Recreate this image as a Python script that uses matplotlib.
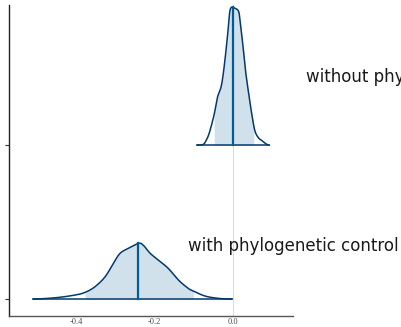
import numpy as np
import matplotlib
matplotlib.use("Agg")
import matplotlib.pyplot as plt

# ---- data ----
labels = ["with phylogenetic control", "without phylogenetic control"]
positions = [1, 2]

# density curve of "without phylogenetic control" (x, relative height)
x_without = [-0.091, -0.076, -0.067, -0.059, -0.048, -0.040, -0.031, -0.025, -0.018,
             -0.012, -0.008, -0.003, 0.003, 0.014, 0.018, 0.025, 0.031, 0.039,
             0.048, 0.056, 0.065, 0.073, 0.084, 0.092]
d_without = [0.0, 0.7, 5.7, 14.0, 30.7, 47.3, 57.3, 70.7, 94.0,
             117.3, 134.0, 138.0, 137.3, 134.0, 124.0, 100.7, 77.3, 54.0,
             30.7, 14.0, 7.3, 4.7, 1.3, 0.0]
# density curve of "with phylogenetic control"
x_with = [-0.509, -0.453, -0.403, -0.377, -0.352, -0.326, -0.305, -0.288, -0.267,
          -0.241, -0.229, -0.211, -0.190, -0.165, -0.139, -0.114, -0.101, -0.071,
          -0.037, -0.003]
d_with = [0.0, 1.3, 4.0, 6.7, 12.3, 22.3, 35.7, 45.7, 50.7,
          55.7, 54.0, 45.7, 39.0, 30.7, 19.0, 10.7, 8.0, 3.0,
          0.7, 0.0]

medians = [-0.242, 0.001]
interval_lo = [-0.377, -0.048]
interval_hi = [-0.101, 0.053]

xticks = [-0.4, -0.2, 0.0]
xtick_labels = ["-0.4", "-0.2", "0.0"]

# ---- styling ----
fill_col = "#d1e1ec"
line_col = "#03396c"
med_col = "#005b96"
scale = 1 / 154.0


def smooth(xs, ys, n=12):
    """Catmull-Rom spline through the read points (display only)."""
    xs = np.asarray(xs, float)
    ys = np.asarray(ys, float)
    px = np.concatenate([[2 * xs[0] - xs[1]], xs, [2 * xs[-1] - xs[-2]]])
    py = np.concatenate([[ys[0]], ys, [ys[-1]]])
    ox, oy = [], []
    t = np.linspace(0, 1, n, endpoint=False)
    for k in range(1, len(px) - 2):
        p0x, p1x, p2x, p3x = px[k - 1:k + 3]
        p0y, p1y, p2y, p3y = py[k - 1:k + 3]
        for arr, a, b, c, d in ((ox, p0x, p1x, p2x, p3x), (oy, p0y, p1y, p2y, p3y)):
            arr.extend(0.5 * ((2 * b) + (-a + c) * t + (2 * a - 5 * b + 4 * c - d) * t ** 2
                              + (-a + 3 * b - 3 * c + d) * t ** 3))
    ox.append(xs[-1])
    oy.append(ys[-1])
    return np.array(ox), np.clip(np.array(oy), 0, None)


fig = plt.figure(figsize=(4.02, 3.27), dpi=100)
ax = fig.add_axes([0.0224, 0.0336, 0.7065, 0.9511])
ax.set_xlim(-0.571, 0.153)
ax.set_ylim(0.89, 2.91)

ax.axvline(0.0, color="#dcdcdc", lw=0.8, zorder=0)

curves = [(x_with, d_with), (x_without, d_without)]
for i, (xs, ds) in enumerate(curves):
    sx, sy = smooth(xs, np.asarray(ds) * scale)
    base = positions[i]
    grid = np.linspace(interval_lo[i], interval_hi[i], 300)
    ax.fill_between(grid, base, base + np.interp(grid, sx, sy),
                    color=fill_col, lw=0, zorder=2)
    ax.plot(sx, base + sy, color=line_col, lw=1.1, zorder=3,
            solid_joinstyle="round")
    ax.plot([sx[0], sx[-1]], [base, base], color=line_col, lw=1.1, zorder=3)
    mh = np.interp(medians[i], sx, sy)
    ax.plot([medians[i], medians[i]], [base, base + mh], color=med_col,
            lw=1.6, zorder=4)

ax.text(-0.115, 1.344, labels[0], fontsize=12, va="center", ha="left",
        color="#1a1a1a", family="DejaVu Sans", clip_on=False, zorder=5)
ax.text(0.186, 2.44, labels[1], fontsize=12, va="center", ha="left",
        color="#1a1a1a", family="DejaVu Sans", clip_on=False, zorder=5)

ax.set_xticks(xticks)
ax.set_xticklabels(xtick_labels, family="Liberation Serif", fontsize=6,
                   color="#4d4d4d")
ax.set_yticks(positions)
ax.set_yticklabels([])
ax.tick_params(axis="y", length=3, width=0.8, color="#333333")
ax.tick_params(axis="x", length=0, pad=1.5)

for s in ["top", "right"]:
    ax.spines[s].set_visible(False)
ax.spines["left"].set_color("#222222")
ax.spines["left"].set_linewidth(1.0)
ax.spines["bottom"].set_color("#555555")
ax.spines["bottom"].set_linewidth(1.0)

fig.savefig("out.png", dpi=100)
